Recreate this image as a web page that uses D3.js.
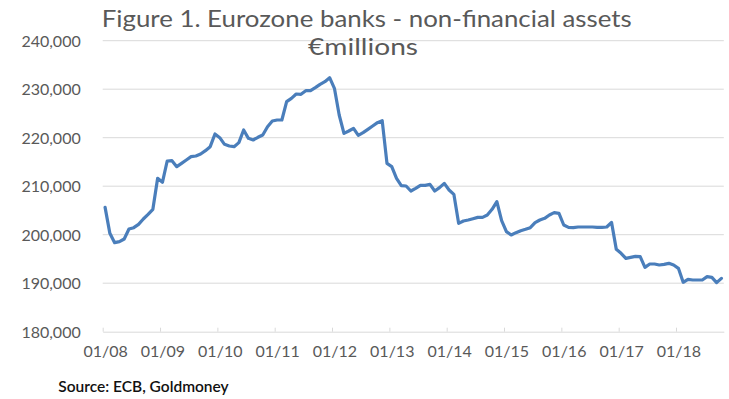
<!DOCTYPE html>
<html>
<head>
<meta charset="utf-8">
<title>Eurozone banks - non-financial assets</title>
<script src="https://cdn.jsdelivr.net/npm/d3@7"></script>
<style>
body { margin: 0; background: #fff; }
svg { display: block; }
.tick text { font-family: Lato, sans-serif; font-size: 16px; fill: #595959; }
</style>
</head>
<body>
<script>
// monthly values, Jan 2008 .. Oct 2018 (EUR millions)
var years = ["08", "09", "10", "11", "12", "13", "14", "15", "16", "17", "18"];
var v2008 = [205640, 200280, 198360, 198560, 199110, 201170, 201450, 202140, 203240, 204200, 205230, 211620];
var v2009 = [210800, 215200, 215260, 214030, 214710, 215400, 216090, 216230, 216640, 217330, 218150, 220760];
var v2010 = [220010, 218630, 218290, 218150, 218980, 221590, 219870, 219530, 220080, 220560, 222270, 223440];
var v2011 = [223650, 223650, 227430, 228120, 229010, 228940, 229700, 229700, 230320, 231000, 231550, 232380];
var v2012 = [230180, 224680, 220900, 221380, 221930, 220490, 221040, 221720, 222410, 223100, 223510, 214710];
var v2013 = [214030, 211620, 210110, 210040, 209010, 209560, 210180, 210180, 210380, 209010, 209700, 210590];
var v2014 = [209220, 208320, 202340, 202820, 203030, 203300, 203580, 203580, 204060, 205230, 206810, 202890];
var v2015 = [200630, 199940, 200420, 200830, 201110, 201450, 202480, 203030, 203370, 204060, 204540, 204400];
var v2016 = [202000, 201520, 201450, 201590, 201590, 201590, 201590, 201520, 201520, 201590, 202550, 196980];
var v2017 = [196160, 195130, 195330, 195540, 195470, 193270, 193960, 193960, 193750, 193890, 194100, 193750];
var v2018 = [193070, 190180, 190800, 190660, 190660, 190660, 191350, 191210, 190110, 191000];
var yTicks = [180000, 190000, 200000, 210000, 220000, 230000, 240000];

var values = [].concat(v2008, v2009, v2010, v2011, v2012, v2013, v2014, v2015, v2016, v2017, v2018);
var data = values.map(function(v, i) { return {i: i, v: v}; });

var W = 729, H = 399;
var plotLeft = 102.7, plotRight = 723.8, plotTop = 40.7, plotBottom = 331.7;

var svg = d3.select("body").append("svg")
    .attr("width", W)
    .attr("height", H);

// one slot per month, point drawn in the middle of its slot
var x = d3.scaleLinear().domain([0, values.length]).range([plotLeft, plotRight]);
var y = d3.scaleLinear().domain([180000, 240000]).range([plotBottom, plotTop]);
var half = (x(1) - x(0)) / 2;

// gridlines
svg.append("g")
    .selectAll("line")
    .data(yTicks.slice(1))
    .enter().append("line")
    .attr("x1", plotLeft)
    .attr("x2", plotRight)
    .attr("y1", function(d) { return y(d); })
    .attr("y2", function(d) { return y(d); })
    .attr("stroke", "#d9d9d9")
    .attr("stroke-width", 1);

// y axis labels
var yAxis = svg.append("g")
    .attr("transform", "translate(" + plotLeft + ",0)")
    .call(d3.axisLeft(y).tickValues(yTicks).tickSize(0).tickPadding(22).tickFormat(d3.format(",")));
yAxis.select(".domain").remove();
yAxis.selectAll("text").attr("dy", "0.36em");

// x axis: ticks at month boundaries, labels on the January point
var xAxis = svg.append("g")
    .attr("transform", "translate(0," + plotBottom + ")")
    .call(d3.axisBottom(x)
        .tickValues(years.map(function(d, k) { return k * 12; }))
        .tickSizeInner(-4)
        .tickSizeOuter(0)
        .tickPadding(14)
        .tickFormat(function(d) { return "01/" + years[d / 12]; }));
xAxis.select(".domain").attr("stroke", "#d9d9d9");
xAxis.selectAll(".tick line").attr("stroke", "#d9d9d9");
xAxis.selectAll(".tick text").attr("x", half).attr("dy", "0.71em");

// the series
var line = d3.line()
    .x(function(d) { return x(d.i) + half; })
    .y(function(d) { return y(d.v); });

svg.append("path")
    .datum(data)
    .attr("d", line)
    .attr("fill", "none")
    .attr("stroke", "#4a7ebb")
    .attr("stroke-width", 3.2)
    .attr("stroke-linejoin", "round")
    .attr("stroke-linecap", "round");

// title
var title = svg.append("g")
    .attr("font-family", "Lato, sans-serif")
    .attr("font-size", 23)
    .attr("fill", "#595959")
    .attr("text-anchor", "middle");
title.append("text")
    .attr("x", 366.7)
    .attr("y", 26.7)
    .attr("textLength", 530)
    .attr("lengthAdjust", "spacingAndGlyphs")
    .text("Figure 1. Eurozone banks - non-financial assets");
title.append("text")
    .attr("x", 363)
    .attr("y", 54.5)
    .attr("textLength", 110)
    .attr("lengthAdjust", "spacingAndGlyphs")
    .text("€millions");

// source note
svg.append("text")
    .attr("x", 58.3)
    .attr("y", 391.5)
    .attr("font-family", "Lato, sans-serif")
    .attr("font-size", 15.5)
    .attr("font-weight", 600)
    .attr("fill", "#111")
    .text("Source: ECB, Goldmoney");
</script>
</body>
</html>
